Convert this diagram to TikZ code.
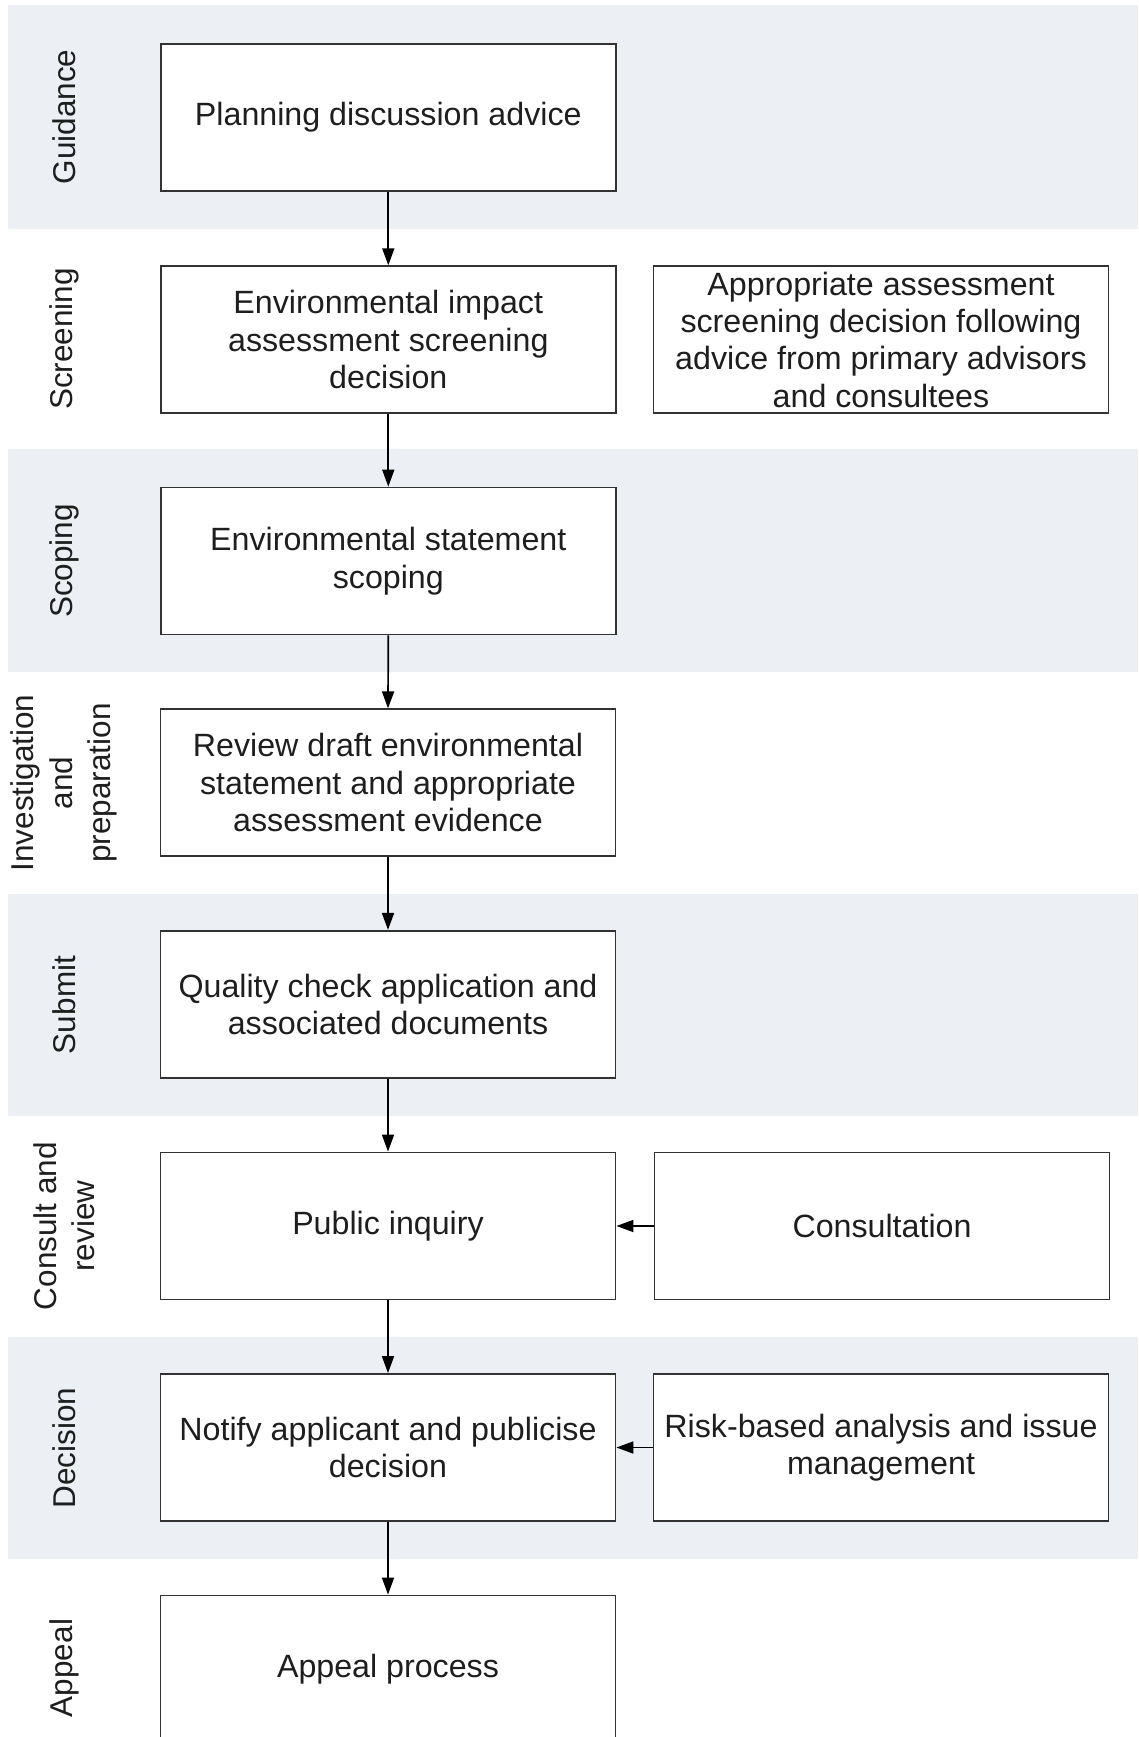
\documentclass[tikz,border=0pt]{standalone}
\usepackage{fontspec}
\setmainfont{Liberation Sans}
\usetikzlibrary{arrows.meta}
\definecolor{bandgrey}{RGB}{236,239,244}
\definecolor{boxline}{RGB}{50,50,50}
\definecolor{txt}{RGB}{30,30,30}
\tikzset{
  stepbox/.style={draw=boxline, line width=1.8pt, fill=white, minimum width=455pt,
    minimum height=147pt, inner sep=0pt, align=center, text=txt,
    font=\fontsize{32.2}{37.4}\selectfont},
  lanelabel/.style={rotate=90, align=center, text=txt, inner sep=0pt,
    font=\fontsize{31.5}{38.5}\selectfont},
  band/.style={fill=bandgrey, draw=none},
  flow/.style={-{Triangle[length=17pt,width=12pt]}, line width=1.7pt, draw=black}
}
\begin{document}
\begin{tikzpicture}[x=1pt,y=-1pt]
\useasboundingbox (0,0) rectangle (1138,1737);
% grey bands
\fill[band] (7.8,5.5) rectangle (1138,229);
\fill[band] (7.8,449) rectangle (1138,672);
\fill[band] (7.8,894) rectangle (1138,1116);
\fill[band] (7.8,1337) rectangle (1138,1559);
% lane labels
\node[lanelabel] (l1) at (64,117) {Guidance};
\node[lanelabel] (l2) at (64,339) {Screening};
\node[lanelabel] (l3) at (64,561) {Scoping};
\node[lanelabel] (l4) at (64,783) {Investigation\\and\\preparation};
\node[lanelabel] (l5) at (64,1005) {Submit};
\node[lanelabel] (l6) at (64,1226) {Consult and\\review};
\node[lanelabel] (l7) at (64,1448) {Decision};
\node[lanelabel] (l8) at (64,1668) {Appeal};
% boxes
\node[stepbox] (b1) at (388.3,117.5) {Planning discussion advice};
\node[stepbox] (b2) at (388.3,339.7) {Environmental impact\\assessment screening\\decision};
\node[stepbox] (c2) at (881,339.7) {Appropriate assessment\\screening decision following\\advice from primary advisors\\and consultees};
\node[stepbox] (b3) at (388.3,561) {Environmental statement\\scoping};
\node[stepbox] (b4) at (388,782.8) {Review draft environmental\\statement and appropriate\\assessment evidence};
\node[stepbox] (b5) at (388,1004.3) {Quality check application and\\associated documents};
\node[stepbox] (b6) at (388,1226) {Public inquiry};
\node[stepbox] (c6) at (882,1226) {Consultation};
\node[stepbox] (b7) at (388,1447.5) {Notify applicant and publicise\\decision};
\node[stepbox] (c7) at (881,1447.5) {Risk-based analysis and issue\\management};
\node[stepbox] (b8) at (388,1669) {Appeal process};
% connectors
\draw[flow] (b1.south) -- (b2.north);
\draw[flow] (b2.south) -- (b3.north);
\draw[flow] (b3.south) -- (b4.north);
\draw[flow] (b4.south) -- (b5.north);
\draw[flow] (b5.south) -- (b6.north);
\draw[flow] (b6.south) -- (b7.north);
\draw[flow] (b7.south) -- (b8.north);
\draw[flow] (c6.west) -- (b6.east);
\draw[flow] (c7.west) -- (b7.east);
\end{tikzpicture}
\end{document}
